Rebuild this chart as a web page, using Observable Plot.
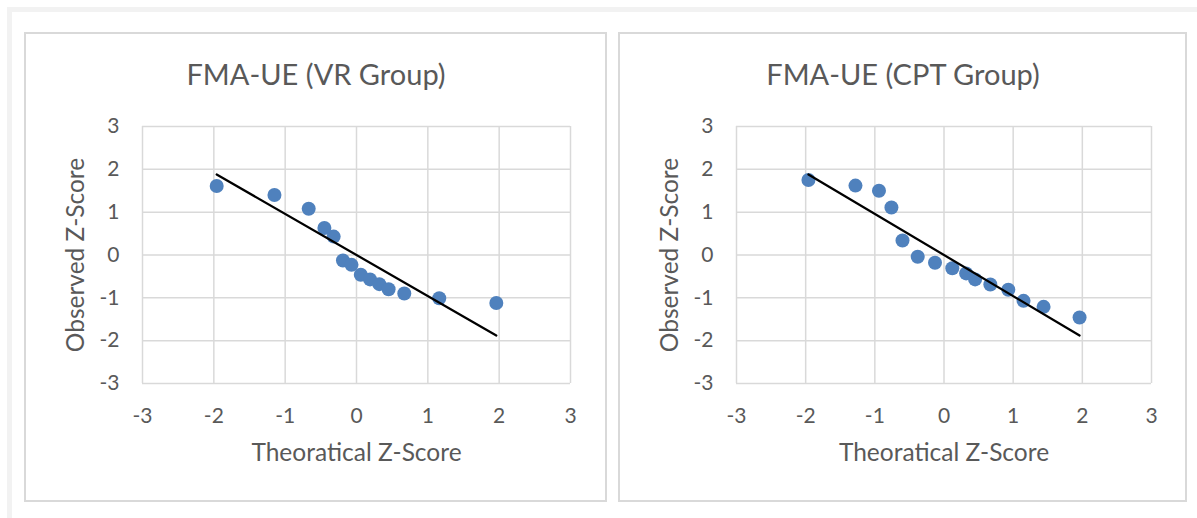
<!DOCTYPE html>
<html>
<head>
<meta charset="utf-8">
<script src="https://cdn.jsdelivr.net/npm/d3@7"></script>
<script src="https://cdn.jsdelivr.net/npm/@observablehq/plot@0.6"></script>
<style>
  html, body { margin: 0; padding: 0; background: #fff; width: 1197px; height: 518px; overflow: hidden; }
  .outer { position: absolute; left: 7px; top: 7px; width: 1200px; height: 520px; border-top: 5px solid #f2f2f2; border-left: 5px solid #f2f2f2; box-sizing: border-box; }
  .panel { position: absolute; border: 2px solid #d9d9d9; box-sizing: border-box; }
  .chart { position: absolute; }
</style>
</head>
<body>
<div class="outer"></div>
<div class="panel" style="left:24px;top:32px;width:583px;height:470px;"></div>
<div class="panel" style="left:618px;top:32px;width:569px;height:470px;"></div>
<div id="c1" class="chart" style="left:25px;top:33px;"></div>
<div id="c2" class="chart" style="left:619px;top:33px;"></div>
<script>
// ---- data ----
const titles = ["FMA-UE (VR Group)", "FMA-UE (CPT Group)"];
const xLabel = "Theoratical Z-Score";
const yLabel = "Observed Z-Score";
const axisTicks = [-3, -2, -1, 0, 1, 2, 3];

const vrTheoretical = [-1.96, -1.15, -0.67, -0.45, -0.32, -0.19, -0.07, 0.06, 0.19, 0.32, 0.45, 0.67, 1.16, 1.96];
const vrObserved    = [1.61, 1.40, 1.08, 0.63, 0.43, -0.13, -0.23, -0.46, -0.57, -0.68, -0.80, -0.90, -1.01, -1.12];

const cptTheoretical = [-1.96, -1.28, -0.94, -0.76, -0.60, -0.38, -0.13, 0.12, 0.32, 0.45, 0.67, 0.93, 1.15, 1.44, 1.96];
const cptObserved    = [1.75, 1.62, 1.50, 1.11, 0.34, -0.04, -0.18, -0.31, -0.43, -0.57, -0.69, -0.81, -1.07, -1.21, -1.46];

const trendX = [-1.96, 1.96];
const trendY = [1.88, -1.88];

// ---- drawing ----
const FONT = "Lato, 'Open Sans', sans-serif";
const TEXT = "#595959";
const GRID = "#d9d9d9";
const DOT = "#4f81bd";
const fmt = d => String(d);

function panel(title, xs, ys, width, mLeft, mRight) {
  const mTop = 93, mBottom = 118, height = 468;
  const pts = xs.map((x, i) => ({x, y: ys[i]}));
  const trend = trendX.map((x, i) => ({x, y: trendY[i]}));
  return Plot.plot({
    width, height,
    marginLeft: mLeft, marginRight: mRight, marginTop: mTop, marginBottom: mBottom,
    x: {domain: [-3, 3]},
    y: {domain: [-3, 3]},
    style: {fontFamily: FONT, color: TEXT, background: "transparent", overflow: "visible"},
    marks: [
      Plot.gridX(axisTicks, {stroke: GRID, strokeOpacity: 1, strokeWidth: 1.5}),
      Plot.gridY(axisTicks, {stroke: GRID, strokeOpacity: 1, strokeWidth: 1.5}),
      Plot.axisX(axisTicks, {tickSize: 0, tickPadding: 25, fontSize: 21, label: null, fill: TEXT, tickFormat: fmt}),
      Plot.axisY(axisTicks, {tickSize: 0, tickPadding: 23, fontSize: 21, label: null, fill: TEXT, tickFormat: fmt}),
      Plot.dot(pts, {x: "x", y: "y", r: 7, fill: DOT, stroke: "none"}),
      Plot.line(trend, {x: "x", y: "y", stroke: "#000", strokeWidth: 2.25}),
      Plot.text([title], {frameAnchor: "top", dx: (mRight - mLeft) / 2, dy: -50.5, fontSize: 29, fill: TEXT, lineAnchor: "middle", textAnchor: "middle"}),
      Plot.text([xLabel], {frameAnchor: "bottom", dy: 70, fontSize: 24.5, fill: TEXT, lineAnchor: "middle", textAnchor: "middle"}),
      Plot.text([yLabel], {frameAnchor: "left", dx: -66, rotate: -90, fontSize: 24.5, fill: TEXT, lineAnchor: "middle", textAnchor: "middle"})
    ]
  });
}

document.getElementById("c1").appendChild(panel(titles[0], vrTheoretical, vrObserved, 581, 117, 36));
document.getElementById("c2").appendChild(panel(titles[1], cptTheoretical, cptObserved, 567, 117, 35));
</script>
</body>
</html>
